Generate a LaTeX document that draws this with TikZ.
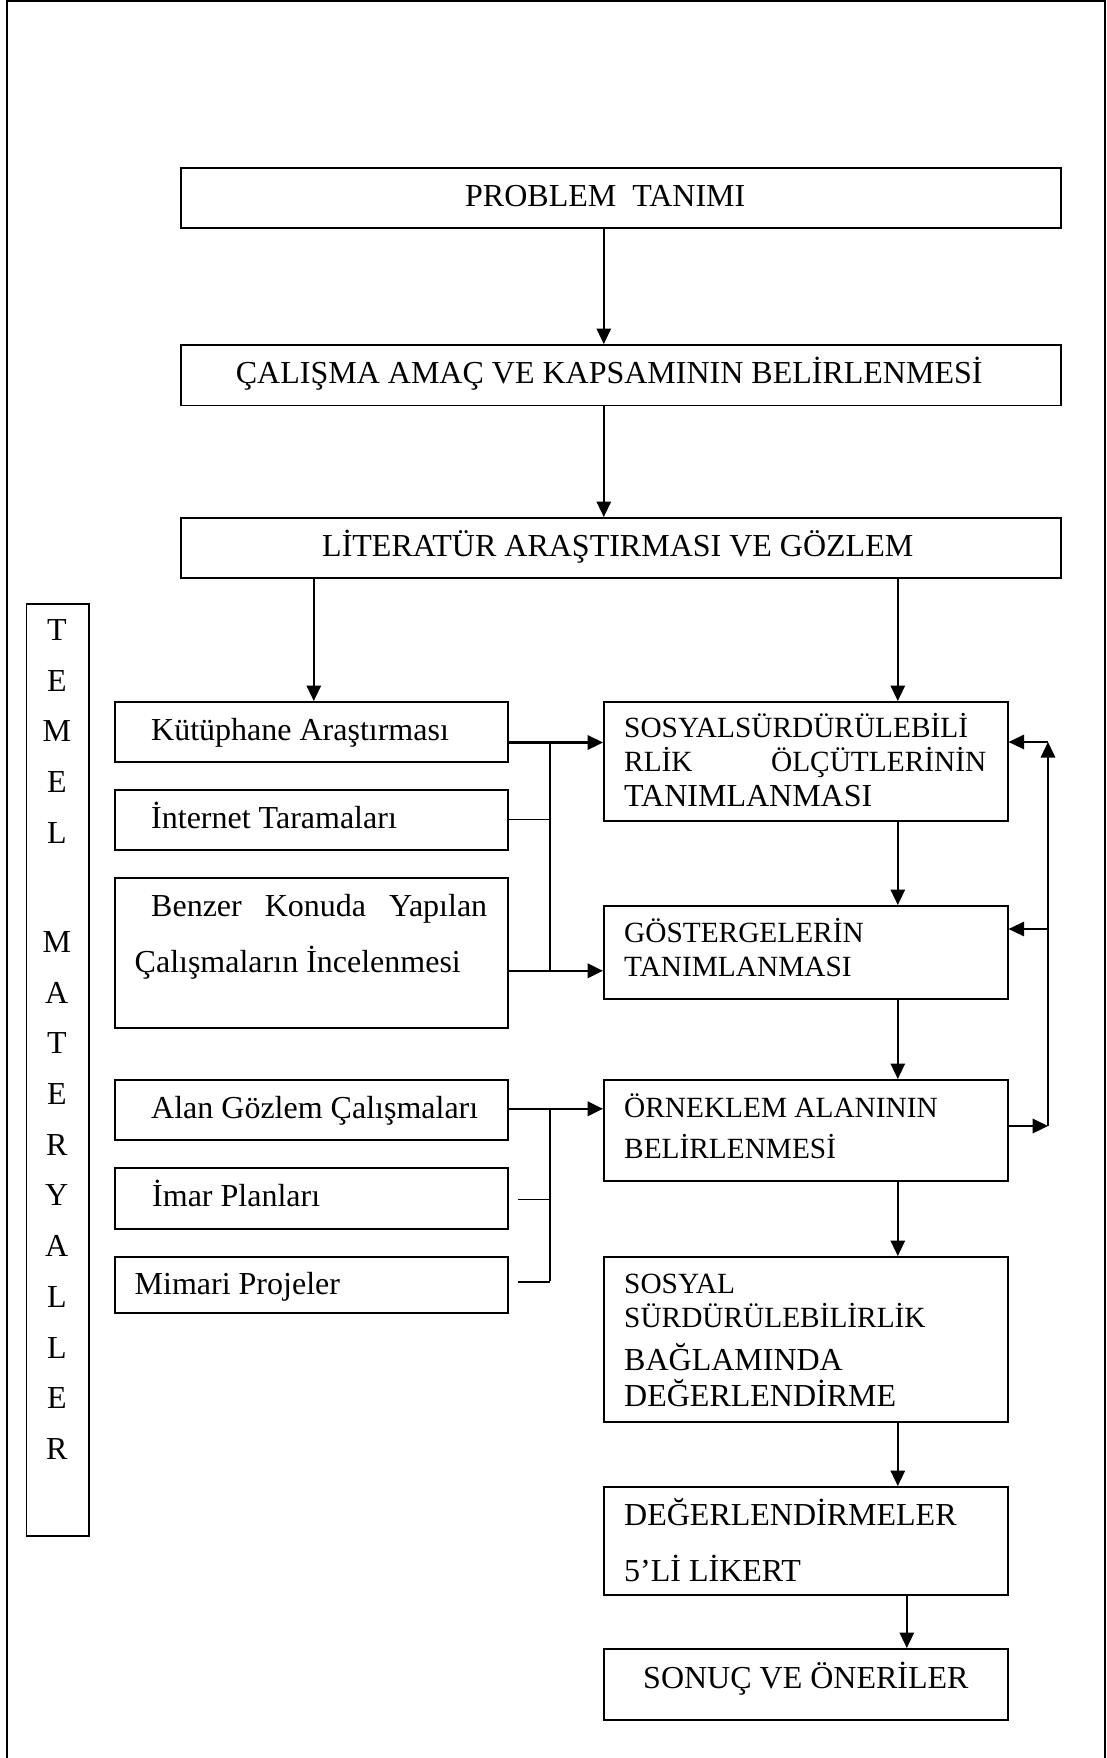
\documentclass[tikz,border=0pt]{standalone}
\usepackage{fontspec}
\setmainfont{Liberation Serif}
\usepackage{graphicx}
\usetikzlibrary{arrows.meta}
\newcommand\ftw{\fontsize{32}{36}\selectfont}
\newcommand\fel{\fontsize{29.33}{33}\selectfont}
\newcommand\mkbox[5]{\node[box,minimum width={#4-#2},minimum height={#5-#3}] (#1) at (#2,#3) {};}
\begin{document}
\begin{tikzpicture}[x=1pt,y=-1pt,
 box/.style={draw, line width=1.6pt, rectangle, inner sep=0pt, anchor=north west},
 tw/.style={anchor=base west, inner sep=0pt, font=\ftw},
 te/.style={anchor=base west, inner sep=0pt, font=\fel},
 arr/.style={line width=1.5pt, -{Triangle[length=15.5pt,width=14.5pt]}},
 thk/.style={line width=2.2pt},
 thn/.style={line width=1.1pt}]
\useasboundingbox (0,0) rectangle (1107,1758);
\draw[line width=1.5pt] (7,1770) -- (7,1) -- (1105,1) -- (1105,1770);
% boxes
\mkbox{prob}{180}{167}{1060}{227}
\mkbox{amac}{180}{344}{1060}{404.5}
\mkbox{lit}{180}{517}{1060}{577}
\mkbox{kut}{114}{701}{507}{761}
\mkbox{inet}{114}{789}{507}{849}
\mkbox{ben}{114}{877}{507}{1027}
\mkbox{alan}{114}{1079}{507}{1139}
\mkbox{imar}{114}{1167}{507}{1228}
\mkbox{mim}{114}{1256}{507}{1312}
\mkbox{sos}{603}{701}{1007}{820}
\mkbox{gos}{603}{905}{1007}{998}
\mkbox{orn}{603}{1079}{1007}{1180}
\mkbox{deg}{603}{1256}{1007}{1421}
\mkbox{lik}{603}{1486}{1007}{1594}
\mkbox{son}{603}{1648}{1007}{1719}
\mkbox{temel}{25.5}{603}{88}{1535}
% texts
\node[tw] (probt) at (465,206.7) {PROBLEM~~TANIMI};
\node[tw] (amact) at (235.7,383.9) {ÇALIŞMA AMAÇ VE KAPSAMININ BELİRLENMESİ};
\node[tw] (litt) at (322,556.8) {LİTERATÜR ARAŞTIRMASI VE GÖZLEM};
\node[tw] (kutt) at (151,740.7) {Kütüphane Araştırması};
\node[tw] (inett) at (151,828.8) {İnternet Taramaları};
\node[tw] (bent1) at (151,916.8) {\makebox[336pt][s]{Benzer Konuda Yapılan}};
\node[tw] (bent2) at (134.5,972.3) {Çalışmaların İncelenmesi};
\node[tw] (alant) at (151,1118.5) {Alan Gözlem Çalışmaları};
\node[tw] (imart) at (152,1206) {İmar Planları};
\node[tw] (mimt) at (134.5,1294) {Mimari Projeler};
\node[te] (sost1) at (624,737.7) {SOSYALSÜRDÜRÜLEBİLİ};
\node[te] (sost2) at (624,771) {\makebox[362pt][s]{RLİK ÖLÇÜTLERİNİN}};
\node[tw] (sost3) at (624,806.6) {TANIMLANMASI};
\node[te] (gost1) at (624,942.8) {GÖSTERGELERİN};
\node[te] (gost2) at (624,976) {TANIMLANMASI};
\node[te] (ornt1) at (624,1117.7) {ÖRNEKLEM ALANININ};
\node[te] (ornt2) at (624,1158) {BELİRLENMESİ};
\node[te] (degt1) at (624,1293.2) {SOSYAL};
\node[te] (degt2) at (624,1327.6) {SÜRDÜRÜLEBİLİRLİK};
\node[tw] (degt3) at (624,1370.5) {BAĞLAMINDA};
\node[tw] (degt4) at (624,1406.8) {DEĞERLENDİRME};
\node[tw] (likt1) at (624,1525.5) {DEĞERLENDİRMELER};
\node[tw] (likt2) at (624,1581) {5’Lİ LİKERT};
\node[tw] (sont) at (643,1688) {SONUÇ VE ÖNERİLER};
\node[anchor=base, inner sep=0pt, font=\ftw] (temt) at (56.8,640.5)
 {\parbox[t]{40pt}{\centering\baselineskip=50.7pt T\\E\\M\\E\\L\\[58.4pt]M\\A\\T\\E\\R\\Y\\A\\L\\L\\E\\R}};
% main flow
\draw[arr] ([xshift=-17pt]prob.south) -- ([xshift=-17pt]amac.north);
\draw[arr] ([xshift=-17pt]amac.south) -- ([xshift=-17pt]lit.north);
\draw[arr] ([xshift=2.5pt]kut.north |- lit.south) -- ([xshift=2.5pt]kut.north);
\draw[arr] ([xshift=92pt]sos.north |- lit.south) -- ([xshift=92pt]sos.north);
\draw[arr] ([xshift=92pt]sos.south) -- ([xshift=92pt]gos.north);
\draw[arr] ([xshift=92pt]gos.south) -- ([xshift=92pt]orn.north);
\draw[arr] ([xshift=92pt]orn.south) -- ([xshift=92pt]deg.north);
\draw[arr] ([xshift=92pt]deg.south) -- ([xshift=92pt]lik.north);
\draw[arr] ([xshift=101pt]lik.south) -- ([xshift=101pt]son.north);
% upper bus
\coordinate (bA) at (550,741.7);
\coordinate (bB) at (550,970);
\draw[arr,thk] ([yshift=-10.7pt]kut.east) -- ([yshift=-10.7pt]kut.east -| sos.west);
\draw[line width=1.6pt] (bA) -- (bB);
\draw[thn] (inet.east) -- (inet.east -| bA);
\draw[arr,thk] ([yshift=-18pt]ben.east) -- ([yshift=-18pt]ben.east -| gos.west);
% lower bus
\coordinate (cA) at (550,1108);
\coordinate (cB) at (550,1281);
\draw[arr,thk] ([yshift=1pt]alan.east) -- ([yshift=1pt]alan.east -| orn.west);
\draw[line width=1.4pt] (cA) -- (cB);
\draw[thn] ([xshift=9pt,yshift=-1.5pt]imar.east) -- ([yshift=-1.5pt]imar.east -| cA);
\draw[line width=1.8pt] ([xshift=9pt,yshift=3pt]mim.east) -- ([yshift=3pt]mim.east -| cA);
% feedback
\coordinate (fA) at (1048,1126);
\coordinate (fB) at (1048,742);
\coordinate (fC) at (1048,929);
\draw[arr,thk] (orn.east |- fA) -- (fA);
\draw[arr] (fA) -- (fB);
\draw[arr] (fB) -- (fB -| sos.east);
\draw[arr] (fC) -- (fC -| gos.east);
\end{tikzpicture}
\end{document}
